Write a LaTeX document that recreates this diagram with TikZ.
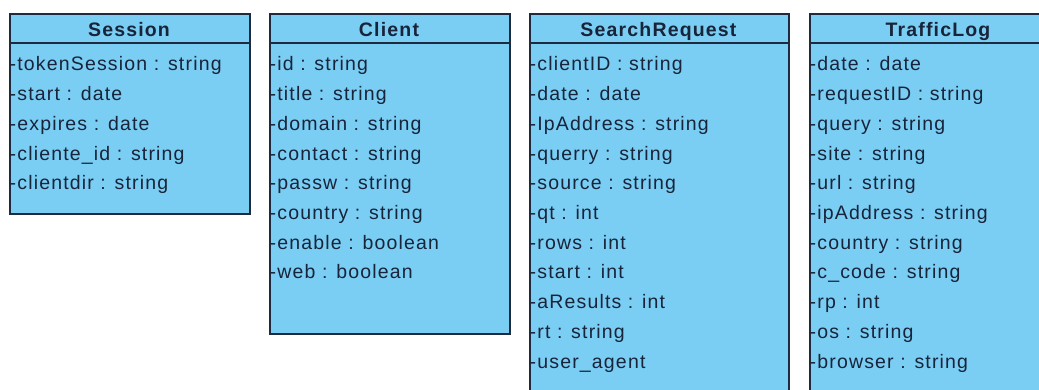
\documentclass[tikz,border=0pt]{standalone}
\usepackage{fontspec}
\setmainfont[LetterSpace=6]{Liberation Sans}
\definecolor{classfill}{RGB}{122,205,243}
\definecolor{classline}{RGB}{30,42,62}
\definecolor{classtext}{RGB}{24,36,58}
\begin{document}
\begin{tikzpicture}[x=1pt,y=-1pt,
  classbox/.style={draw=classline, fill=classfill, line width=1.8pt, inner sep=0pt, anchor=north west},
  classname/.style={font=\bfseries\fontsize{19.5}{21}\selectfont, text=classtext, inner sep=0pt, anchor=base},
  attr/.style={font=\fontsize{19.5}{21}\selectfont, text=classtext, inner sep=0pt, anchor=base west},
  sepline/.style={draw=classline, line width=1.5pt}]
\useasboundingbox (0,0) rectangle (1039,390);
\fill[white] (0,0) rectangle (1039,390);
\clip (0,0) rectangle (1039,390);

% Session
\node[classbox, minimum width=240pt, minimum height=200pt] (session) at (9,13) {};
\draw[sepline] (9,43) -- (249,43);
\node[classname] (sessionname) at (129,36.5) {Session};
\foreach \t [count=\i from 0] in {-tokenSession : string, -start : date, -expires : date, -cliente\_id : string, -clientdir : string}
  \node[attr] (session-a\i) at (9.5,{71+29.7*\i}) {\t};

% Client
\node[classbox, minimum width=240pt, minimum height=320pt] (client) at (269,13) {};
\draw[sepline] (269,43) -- (509,43);
\node[classname] (clientname) at (389,36.5) {Client};
\foreach \t [count=\i from 0] in {-id : string, -title : string, -domain : string, -contact : string, -passw : string, -country : string, -enable : boolean, -web : boolean}
  \node[attr] (client-a\i) at (269.5,{71+29.7*\i}) {\t};

% SearchRequest
\node[classbox, minimum width=259pt, minimum height=400pt] (searchrequest) at (529,13) {};
\draw[sepline] (529,43) -- (788,43);
\node[classname] (searchrequestname) at (658.5,36.5) {SearchRequest};
\foreach \t [count=\i from 0] in {-clientID : string, -date : date, -IpAddress : string, -querry : string, -source : string, -qt : int, -rows : int, -start : int, -aResults : int, -rt : string, -user\_agent}
  \node[attr] (searchrequest-a\i) at (529.5,{71+29.7*\i}) {\t};

% TrafficLog
\node[classbox, minimum width=260pt, minimum height=400pt] (trafficlog) at (809,13) {};
\draw[sepline] (809,43) -- (1069,43);
\node[classname] (trafficlogname) at (938,36.5) {TrafficLog};
\foreach \t [count=\i from 0] in {-date : date, -requestID : string, -query : string, -site : string, -url : string, -ipAddress : string, -country : string, -c\_code : string, -rp : int, -os : string, -browser : string}
  \node[attr] (trafficlog-a\i) at (809.5,{71+29.7*\i}) {\t};
\end{tikzpicture}
\end{document}
